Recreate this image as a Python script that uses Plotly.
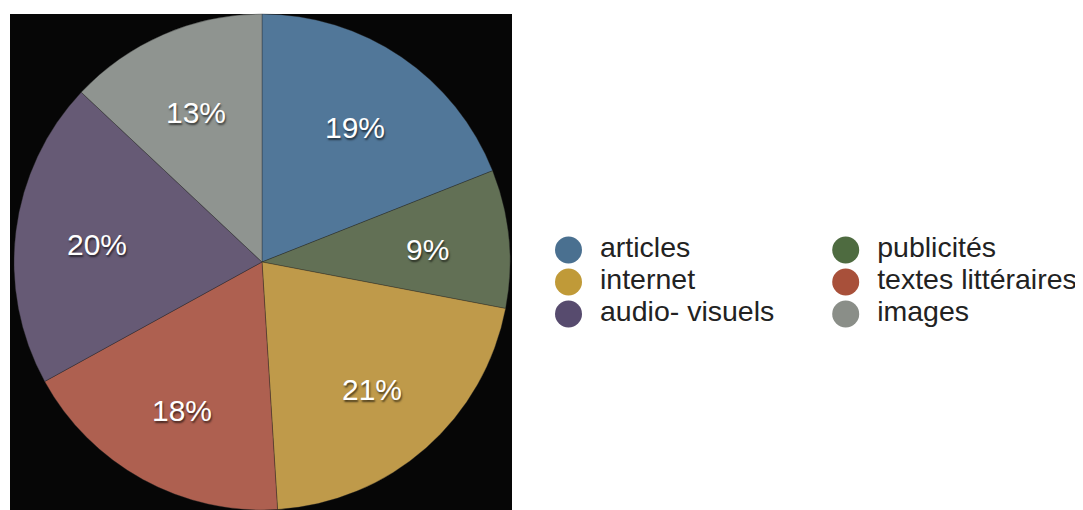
import math
import plotly.graph_objects as go

# slices, clockwise from 12 o'clock
labels = ['articles', 'publicités', 'internet', 'textes littéraires', 'audio- visuels', 'images']
shares = [19, 9, 21, 18, 20, 13]
slice_colors = ['#517799', '#627055', '#bf9a4a', '#ae6050', '#665a75', '#8f9490']
# legend dots are a bit more saturated than the slices
legend_colors = ['#4a7090', '#4e6b40', '#c09a38', '#a8503a', '#574b6e', '#8a8e88']

# page body adds an 8px margin, so the figure is a bit smaller than the window
W, H = 1075, 502
FONT = 'Liberation Sans, Arial, Helvetica, sans-serif'

# pie geometry in figure pixels
PIE_X0, PIE_X1 = 6, 502
PIE_TOP = 6
cx = (PIE_X0 + PIE_X1) / 2
R = (PIE_X1 - PIE_X0) / 2
cy = PIE_TOP + R

fig = go.Figure()

fig.add_trace(go.Pie(
    labels=labels,
    values=shares,
    sort=False,
    direction='clockwise',
    rotation=0,
    marker=dict(colors=slice_colors, line=dict(color='rgba(40,40,40,0.6)', width=0.6)),
    textinfo='none',
    domain=dict(x=[PIE_X0 / W, PIE_X1 / W], y=[0, 1 - PIE_TOP / H]),
    showlegend=False,
    hoverinfo='label+percent',
))

# percentage labels sit at ~2/3 of the radius, on each slice's mid angle
total = sum(shares)
annotations = []
cum = 0
for s in shares:
    mid = 2 * math.pi * (cum + s / 2) / total
    cum += s
    px = cx + 0.67 * R * math.sin(mid)
    py = cy - 0.67 * R * math.cos(mid) + 3  # digits sit a bit above the box centre
    annotations.append(dict(
        x=px / W, y=1 - py / H, xref='paper', yref='paper',
        text=f"{round(100 * s / total)}%", showarrow=False,
        xanchor='center', yanchor='middle',
        font=dict(family=FONT, size=30, color='white', shadow='1px 2px 2px rgba(0,0,0,0.6)'),
    ))

# legend: two columns of big dots + text, on hidden axes
cols = [i % 2 for i in range(len(labels))]
rows = [i // 2 for i in range(len(labels))]

fig.add_trace(go.Scatter(
    x=cols, y=rows, mode='markers',
    marker=dict(size=27, color=legend_colors, line=dict(width=0)),
    showlegend=False, hoverinfo='skip',
))
fig.add_trace(go.Scatter(
    x=[c + 0.1136 for c in cols], y=rows, mode='text',
    text=labels, textposition='middle right', cliponaxis=False,
    textfont=dict(family=FONT, size=28.5, color='#222222'),
    showlegend=False, hoverinfo='skip',
))

fig.update_xaxes(domain=[0.5, 1], range=[-0.083, 1.856], visible=False, fixedrange=True)
# rows 32px apart, first row centred ~242px from the figure top
fig.update_yaxes(domain=[0, 1], range=[8.125, -7.5625], visible=False, fixedrange=True)

fig.update_layout(
    width=W, height=H,
    margin=dict(l=0, r=0, t=0, b=0),
    paper_bgcolor='white',
    plot_bgcolor='rgba(0,0,0,0)',
    annotations=annotations,
    shapes=[dict(type='rect', xref='paper', yref='paper',
                 x0=2 / W, x1=504 / W, y0=0, y1=1 - 6 / H,
                 fillcolor='#060606', line=dict(width=0), layer='below')],
)

fig.write_html("out.html")
